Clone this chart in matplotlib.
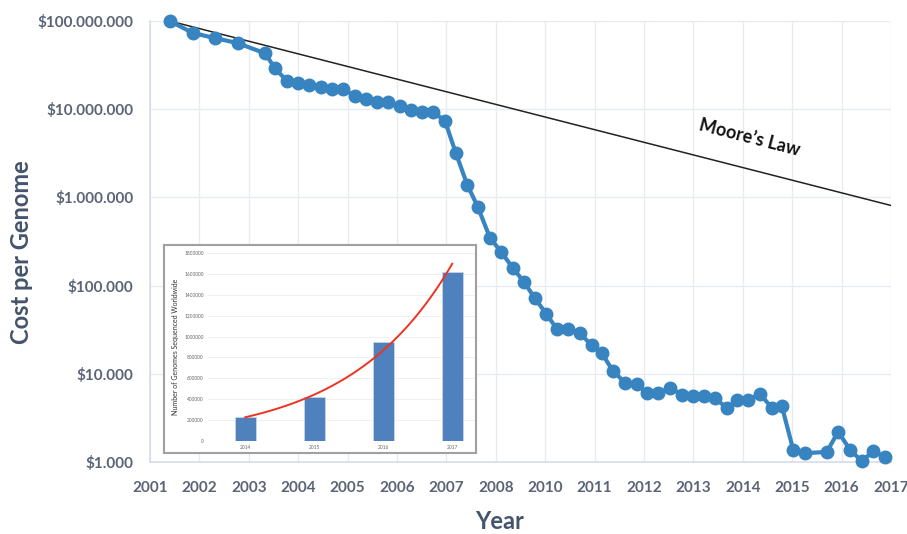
import matplotlib.pyplot as plt
import matplotlib.ticker as mticker
import numpy as np

# x-axis labels as printed (2009 is not on the axis)
year_labels = ['2001', '2002', '2003', '2004', '2005', '2006', '2007', '2008',
               '2010', '2011', '2012', '2013', '2014', '2015', '2016', '2017']

# cost per genome, x in tick-position units
cost_x = [0.40, 0.87, 1.32, 1.78, 2.33, 2.53, 2.77, 3.00, 3.22, 3.46, 3.68, 3.91,
          4.15, 4.37, 4.59, 4.82, 5.06, 5.28, 5.50, 5.73, 5.97, 6.19, 6.42, 6.64,
          6.88, 7.11, 7.34, 7.57, 7.79, 8.02, 8.24, 8.46, 8.70, 8.94, 9.15, 9.37,
          9.62, 9.86, 10.06, 10.28, 10.53, 10.77, 10.99, 11.21, 11.43, 11.68, 11.88,
          12.10, 12.35, 12.59, 12.79, 13.02, 13.26, 13.70, 13.93, 14.17, 14.41,
          14.64, 14.87]
cost_y = [1.0e8, 7.3e7, 6.4e7, 5.6e7, 4.3e7, 2.9e7, 2.1e7, 2.0e7, 1.9e7, 1.8e7,
          1.7e7, 1.7e7, 1.4e7, 1.3e7, 1.2e7, 1.2e7, 1.1e7, 9.8e6, 9.4e6, 9.3e6,
          7.4e6, 3.2e6, 1.4e6, 7.7e5, 3.5e5, 2.4e5, 1.6e5, 1.1e5, 7.2e4, 4.8e4,
          3.2e4, 3.2e4, 2.9e4, 2.1e4, 1.7e4, 1.08e4, 7.9e3, 7.6e3, 6.0e3, 6.0e3,
          6.9e3, 5.8e3, 5.6e3, 5.6e3, 5.3e3, 4.1e3, 5.0e3, 5.0e3, 5.9e3, 4.1e3,
          4.3e3, 1.38e3, 1.26e3, 1.3e3, 2.2e3, 1.38e3, 1.02e3, 1.33e3, 1.15e3]

moore_x = [0.40, 15.0]
moore_y = [1.0e8, 8.1e5]

# inset: genomes sequenced worldwide
inset_years = ['2014', '2015', '2016', '2017']
inset_counts = [227000, 425000, 952000, 1620000]

W, H = 907, 534
fig = plt.figure(figsize=(W / 100, H / 100), dpi=100)
plt.rcParams['font.family'] = ['Lato', 'DejaVu Sans']


def box(x0, y0, x1, y1):
    # pixel box (top-left origin) -> figure fraction rect
    return [x0 / W, 1 - y1 / H, (x1 - x0) / W, (y1 - y0) / H]


ax = fig.add_axes(box(150, 21, 891, 462))
ax.set_yscale('log')
ax.set_ylim(1e3, 1e8)
ax.set_xlim(0, 15)

ax.plot(moore_x, moore_y, color='#222222', linewidth=1.1, zorder=2)
ax.plot(cost_x, cost_y, color='#3784c0', linewidth=3, marker='o', markersize=9,
        zorder=3, clip_on=False)

ax.set_xticks(range(len(year_labels)))
ax.set_xticklabels(year_labels)
ax.yaxis.set_major_locator(mticker.LogLocator(base=10, numticks=10))
ax.yaxis.set_minor_locator(mticker.NullLocator())
ax.yaxis.set_major_formatter(mticker.FuncFormatter(
    lambda v, p: '$' + f'{int(round(v)):,}'.replace(',', '.')))

tick_col = '#5a6476'
ax.tick_params(length=0, labelsize=11, labelcolor=tick_col)
ax.tick_params(axis='x', pad=14)
ax.tick_params(axis='y', pad=12)
for lab in ax.get_xticklabels() + ax.get_yticklabels():
    lab.set_fontweight('bold')

ax.grid(True, color='#e8ecf2', linewidth=1)
ax.set_axisbelow(True)
for s in ['top', 'right']:
    ax.spines[s].set_visible(False)
for s in ['left', 'bottom']:
    ax.spines[s].set_color('#d6dde8')
    ax.spines[s].set_linewidth(1.2)

lab_col = '#44546a'
ax.set_ylabel('Cost per Genome', fontsize=17, fontweight='bold', color=lab_col, va='center')
ax.yaxis.set_label_coords(-0.173, 0.476)
ax.set_xlabel('Year', fontsize=17, fontweight='bold', color=lab_col, va='center')
ax.xaxis.set_label_coords(0.472, -0.134)

ax.text(12.13, 4.8e6, 'Moore’s Law', fontsize=13, fontweight='bold', color='#111111',
        rotation=-14.5, ha='center', va='center')

# inset frame
frame = fig.add_axes(box(164, 245, 476, 453))
frame.set_xticks([])
frame.set_yticks([])
frame.set_facecolor('white')
for s in frame.spines.values():
    s.set_color('#a0a0a0')
    s.set_linewidth(1.5)
frame.set_zorder(5)

ins = fig.add_axes(box(208, 253, 475, 441))
ins.set_zorder(6)
ins.patch.set_alpha(0)
xi = np.arange(len(inset_years))
ins.bar(xi, inset_counts, width=0.31, color='#4f81bd', edgecolor='#c5d5ea', linewidth=0.6, zorder=2)
# exponential trend line fitted to the bars
coef = np.polyfit(xi, np.log(inset_counts), 1)
xs = np.linspace(0, 3, 100)
ins.plot(xs, np.exp(np.polyval(coef, xs)), color='#ee3322', linewidth=1.4, zorder=3)
ins.set_xlim(-0.54, 3.33)
ins.set_ylim(0, 1800000)
ins.set_yticks(range(0, 1800001, 200000))
ins.yaxis.set_major_formatter(mticker.FuncFormatter(lambda v, p: f'{int(v)}'))
ins.set_xticks(xi)
ins.set_xticklabels(inset_years)
ins.tick_params(length=0, labelsize=3.5, labelcolor='#666666', pad=3)
ins.grid(True, axis='y', color='#eeeeee', linewidth=0.6)
ins.set_axisbelow(True)
for s in ins.spines.values():
    s.set_visible(False)
ins.set_ylabel('Number of Genomes Sequenced Worldwide', fontsize=5, color='#333333', labelpad=4)

fig.savefig('out.png', dpi=100)
